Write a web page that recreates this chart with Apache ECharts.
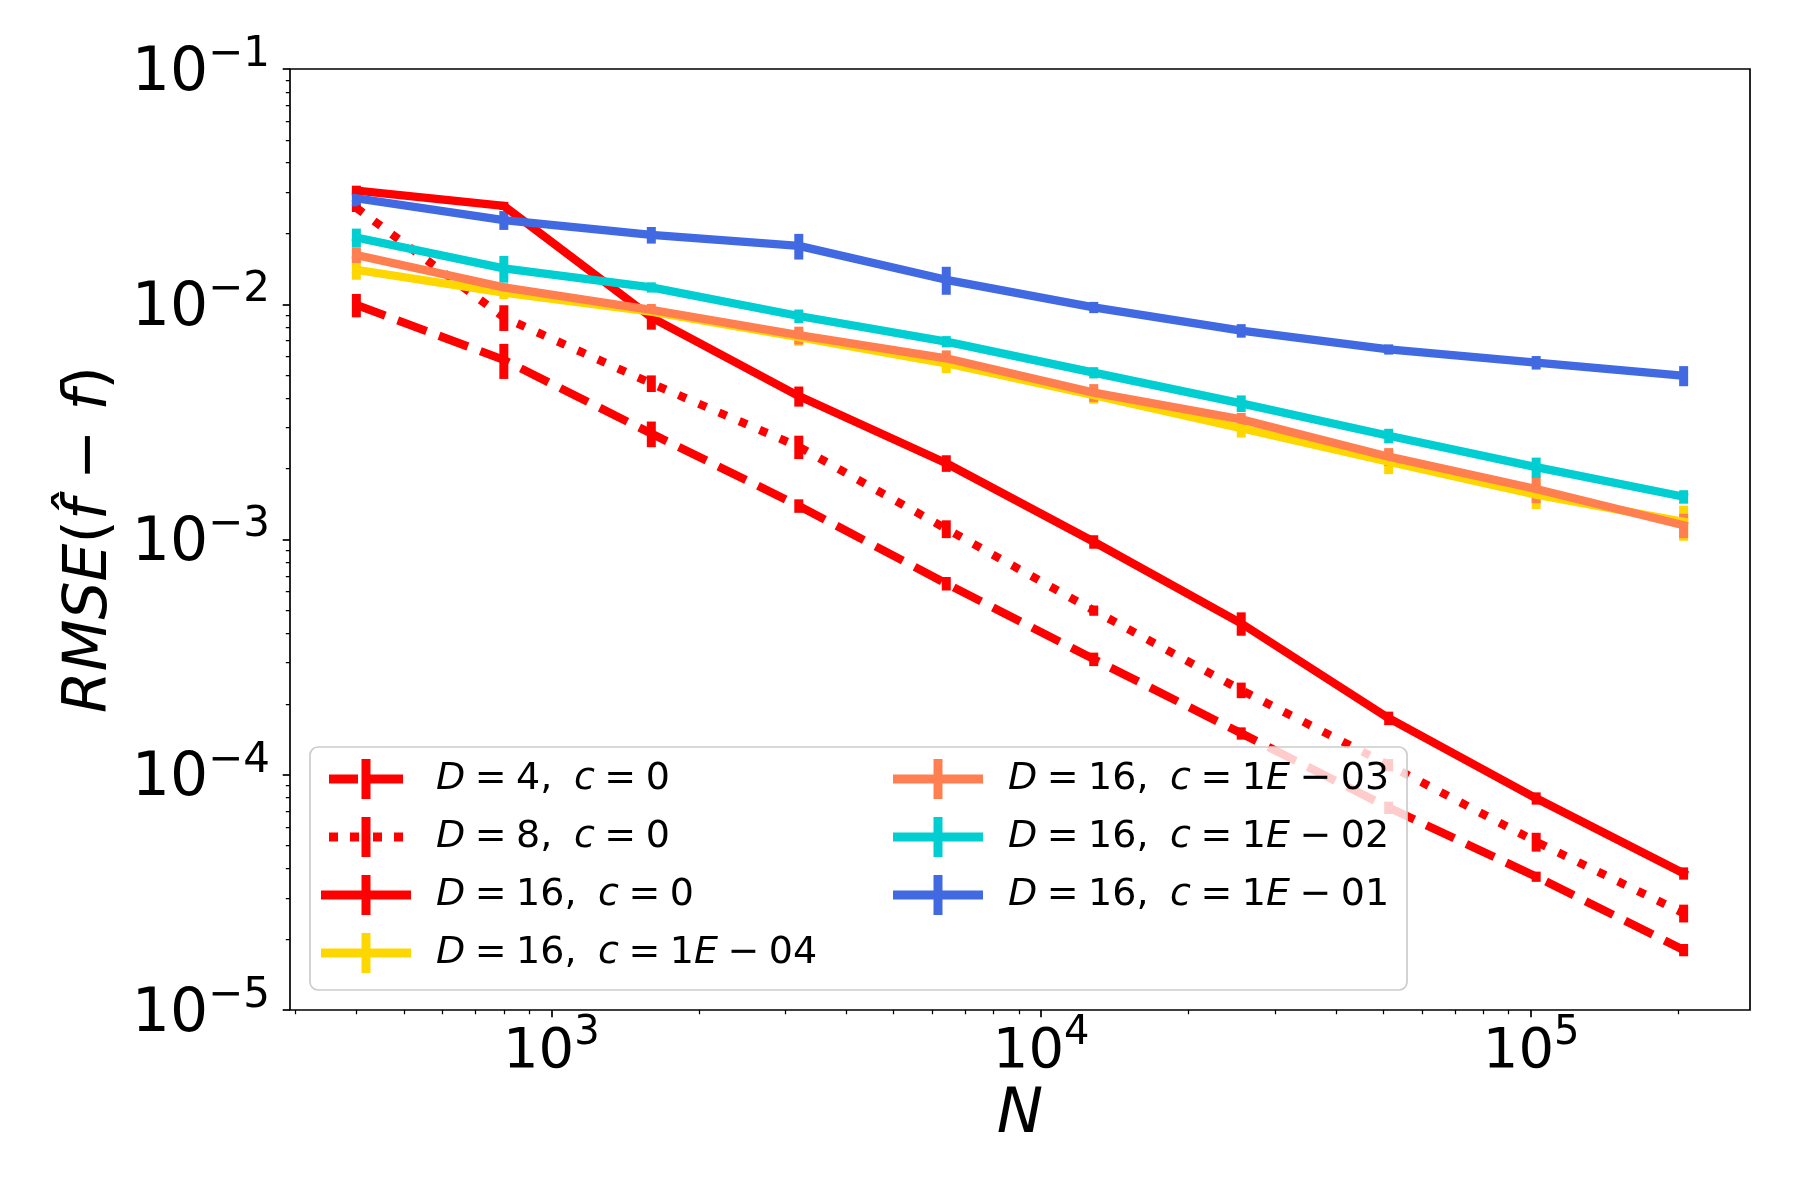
<!DOCTYPE html>
<html><head><meta charset="utf-8">
<script src="https://cdn.jsdelivr.net/npm/echarts@6/dist/echarts.min.js"></script>
<style>html,body{margin:0;padding:0;background:#fff}#c{width:1800px;height:1200px}</style>
</head><body><div id="c"></div>
<script>
// ---- data ----
const nValues = [400, 800, 1600, 3200, 6400, 12800, 25600, 51200, 102400, 204800];
const rmseD4    = [0.00993, 0.00580, 0.00282, 0.00139, 0.000650, 0.000310, 0.000150, 0.0000725, 0.0000369, 0.0000180];
const rmseD8    = [0.0257, 0.00880, 0.00461, 0.00248, 0.00111, 0.000499, 0.000229, 0.000110, 0.0000519, 0.0000258];
const rmseD16c0 = [0.0304, 0.0262, 0.0088, 0.00407, 0.00211, 0.000978, 0.000440, 0.000174, 0.0000794, 0.0000381];
const rmseC1e4  = [0.0140, 0.0112, 0.0093, 0.00725, 0.00561, 0.00411, 0.00297, 0.00214, 0.00155, 0.00119];
const rmseC1e3  = [0.0162, 0.0118, 0.00946, 0.00739, 0.00589, 0.00421, 0.00324, 0.00225, 0.00164, 0.00115];
const rmseC1e2  = [0.0192, 0.0142, 0.0118, 0.00891, 0.00694, 0.00512, 0.00379, 0.00276, 0.00203, 0.00152];
const rmseC1e1  = [0.0282, 0.0228, 0.0197, 0.0177, 0.0127, 0.0097, 0.00772, 0.00643, 0.00565, 0.00497];
// relative error (error bar half-length / value)
const relErrD4    = [0.114, 0.170, 0.125, 0.066, 0.066, 0.066, 0.060, 0.060, 0.050, 0.060];
const relErrD8    = [0.040, 0.125, 0.081, 0.114, 0.087, 0.050, 0.076, 0.060, 0.092, 0.087];
const relErrD16c0 = [0.050, 0.040, 0.114, 0.098, 0.081, 0.066, 0.114, 0.066, 0.060, 0.060];
const relErrC1e4  = [0.092, 0.060, 0.050, 0.081, 0.092, 0.081, 0.087, 0.114, 0.130, 0.170];
const relErrC1e3  = [0.076, 0.040, 0.060, 0.087, 0.081, 0.087, 0.066, 0.087, 0.130, 0.119];
const relErrC1e2  = [0.092, 0.130, 0.050, 0.066, 0.055, 0.055, 0.081, 0.071, 0.098, 0.066];
const relErrC1e1  = [0.076, 0.092, 0.081, 0.125, 0.136, 0.055, 0.066, 0.050, 0.066, 0.098];

const seriesNames = ['D=4, c=0', 'D=8, c=0', 'D=16, c=0', 'D=16, c=1E-04', 'D=16, c=1E-03', 'D=16, c=1E-02', 'D=16, c=1E-01'];
const S = '\u2005'; // narrow (math-like) space
const legendLabels = [
  '{i|D}' + S + '=' + S + '4, ' + S + '{i|c}' + S + '=' + S + '0',
  '{i|D}' + S + '=' + S + '8, ' + S + '{i|c}' + S + '=' + S + '0',
  '{i|D}' + S + '=' + S + '16, ' + S + '{i|c}' + S + '=' + S + '0',
  '{i|D}' + S + '=' + S + '16, ' + S + '{i|c}' + S + '=' + S + '1{i|E}' + S + '\u2212' + S + '04',
  '{i|D}' + S + '=' + S + '16, ' + S + '{i|c}' + S + '=' + S + '1{i|E}' + S + '\u2212' + S + '03',
  '{i|D}' + S + '=' + S + '16, ' + S + '{i|c}' + S + '=' + S + '1{i|E}' + S + '\u2212' + S + '02',
  '{i|D}' + S + '=' + S + '16, ' + S + '{i|c}' + S + '=' + S + '1{i|E}' + S + '\u2212' + S + '01'
];
const xMajorExps = [3, 4, 5];
const yMajorExps = [-5, -4, -3, -2, -1];
const minorMultipliers = [2, 3, 4, 5, 6, 7, 8, 9];
const yMin = 1e-5, yMax = 1e-1;

// ---- styles ----
const FONT = 'DejaVu Sans';
const colors = ['#ff0000', '#ff0000', '#ff0000', '#ffd700', '#ff7f50', '#00ced1', '#4169e1'];
const values = [rmseD4, rmseD8, rmseD16c0, rmseC1e4, rmseC1e3, rmseC1e2, rmseC1e1];
const relErrs = [relErrD4, relErrD8, relErrD16c0, relErrC1e4, relErrC1e3, relErrC1e2, relErrC1e1];
const LW = 8.3;
const dashTypes = [[30.8, 13.3], [8.3, 13.75], 'solid', 'solid', 'solid', 'solid', 'solid'];
const iconSolid  = 'path://M0,15.5H90V24.5H0Z M40.5,0H49.5V40H40.5Z';
const iconDashed = 'path://M8,15.5H37V24.5H8Z M40.5,0H49.5V40H40.5Z M49.5,15.5H82V24.5H49.5Z';
const iconDotted = 'path://M8,15.5H17V24.5H8Z M29,15.5H38V24.5H29Z M40.5,0H49.5V40H40.5Z M52,15.5H61V24.5H52Z M73,15.5H82V24.5H73Z';
const icons = [iconDashed, iconDotted, iconSolid, iconSolid, iconSolid, iconSolid, iconSolid];

// x range: matplotlib-like 5% margins in log space
const lx0 = Math.log10(nValues[0]), lx1 = Math.log10(nValues[nValues.length - 1]);
const pad = 0.05 * (lx1 - lx0);
const xLogMin = lx0 - pad, xLogMax = lx1 + pad;

const xMinor = [], yMinor = [];
for (let e = 2; e <= 5; e++) minorMultipliers.forEach(m => { const v = Math.log10(m) + e; if (v > xLogMin && v < xLogMax) xMinor.push(v); });
for (let e = -5; e <= -2; e++) minorMultipliers.forEach(m => { yMinor.push(Math.log10(m) + e); });

const supFmt = v => '{b|10}{s|' + (v < 0 ? '\u2212' + (-v) : String(v)) + '}';

const series = [];
values.forEach((vals, i) => {
  series.push({
    type: 'line', name: seriesNames[i], color: colors[i],
    data: nValues.map((n, k) => [n, vals[k]]),
    showSymbol: false, symbol: 'none', animation: false,
    lineStyle: { width: LW, color: colors[i], type: dashTypes[i], cap: dashTypes[i] === 'solid' ? 'square' : 'butt', join: 'round' },
    z: 2
  });
  series.push({
    type: 'custom', name: seriesNames[i] + ' err', animation: false, z: 2,
    data: nValues.map((n, k) => [n, vals[k] * (1 - relErrs[i][k]), vals[k] * (1 + relErrs[i][k])]),
    encode: { x: 0, y: [1, 2] },
    renderItem: (params, api) => {
      const p1 = api.coord([api.value(0), api.value(1)]);
      const p2 = api.coord([api.value(0), api.value(2)]);
      return { type: 'line', shape: { x1: p1[0], y1: p1[1], x2: p2[0], y2: p2[1] }, style: { stroke: colors[i], lineWidth: 9 } };
    }
  });
});

const xLabelRich = {
  b: { fontFamily: FONT, fontSize: 56, color: '#000', padding: [10, 0, 0, 0] },
  s: { fontFamily: FONT, fontSize: 40, color: '#000', verticalAlign: 'top' }
};
const yLabelRich = {
  b: { fontFamily: FONT, fontSize: 60, color: '#000', padding: [10, 0, 0, 0] },
  s: { fontFamily: FONT, fontSize: 42, color: '#000', verticalAlign: 'top' }
};
const legendRich = { i: { fontFamily: FONT, fontStyle: 'italic', fontSize: 38, color: '#000' } };
const legendCommon = {
  orient: 'vertical', itemWidth: 90, itemHeight: 40, itemGap: 18, padding: 0,
  selectedMode: false, itemStyle: { borderWidth: 0 },
  textStyle: { fontFamily: FONT, fontSize: 38, color: '#000', padding: [0, 0, 0, 20], rich: legendRich },
  formatter: name => legendLabels[seriesNames.indexOf(name)]
};

const option = {
  backgroundColor: '#fff',
  animation: false,
  grid: { left: 290, top: 69, width: 1460, height: 941, show: true, borderColor: '#000', borderWidth: 1.7, backgroundColor: 'transparent', containLabel: false, outerBoundsMode: 'none' },
  xAxis: [
    { type: 'log', min: Math.pow(10, xLogMin), max: Math.pow(10, xLogMax), show: false, splitLine: { show: false } },
    { type: 'value', position: 'bottom', min: xLogMin, max: xLogMax,
      axisLine: { show: false }, splitLine: { show: false },
      axisTick: { show: true, customValues: xMajorExps, length: 7.3, lineStyle: { color: '#000', width: 1.7 } },
      axisLabel: { customValues: xMajorExps, formatter: supFmt, margin: 4, rich: xLabelRich, color: '#000' },
      name: 'N', nameLocation: 'middle', nameGap: 74,
      nameTextStyle: { fontFamily: FONT, fontSize: 62, fontStyle: 'italic', color: '#000' } },
    { type: 'value', position: 'bottom', min: xLogMin, max: xLogMax,
      axisLine: { show: false }, splitLine: { show: false }, axisLabel: { show: false },
      axisTick: { show: true, customValues: xMinor, length: 4.2, lineStyle: { color: '#000', width: 1.25 } } }
  ],
  yAxis: [
    { type: 'log', min: yMin, max: yMax, show: false, splitLine: { show: false } },
    { type: 'value', position: 'left', min: Math.log10(yMin), max: Math.log10(yMax),
      axisLine: { show: false }, splitLine: { show: false },
      axisTick: { show: true, customValues: yMajorExps, length: 7.3, lineStyle: { color: '#000', width: 1.7 } },
      axisLabel: { customValues: yMajorExps, formatter: supFmt, margin: 20, rich: yLabelRich, color: '#000' },
      name: '{i|RMSE}({i|f\u0302} \u2212 {i|f})', nameLocation: 'middle', nameGap: 166,
      nameTextStyle: { fontFamily: FONT, fontSize: 60, color: '#000', rich: { i: { fontFamily: FONT, fontSize: 60, fontStyle: 'italic', color: '#000' } } } },
    { type: 'value', position: 'left', min: Math.log10(yMin), max: Math.log10(yMax),
      axisLine: { show: false }, splitLine: { show: false }, axisLabel: { show: false },
      axisTick: { show: true, customValues: yMinor, length: 4.2, lineStyle: { color: '#000', width: 1.25 } } }
  ],
  legend: [
    Object.assign({}, legendCommon, { left: 321, top: 759, data: seriesNames.slice(0, 4).map((n, k) => ({ name: n, icon: icons[k] })) }),
    Object.assign({}, legendCommon, { left: 893, top: 759, data: seriesNames.slice(4).map((n, k) => ({ name: n, icon: icons[k + 4] })) })
  ],
  graphic: [{
    type: 'rect', z: 3, silent: true,
    shape: { x: 310, y: 747, width: 1097, height: 243, r: 8 },
    style: { fill: 'rgba(255,255,255,0.8)', stroke: '#cccccc', lineWidth: 1.7 }
  }],
  series: series
};

const chart = echarts.init(document.getElementById('c'), null, { renderer: 'canvas' });
chart.setOption(option);
</script></body></html>
